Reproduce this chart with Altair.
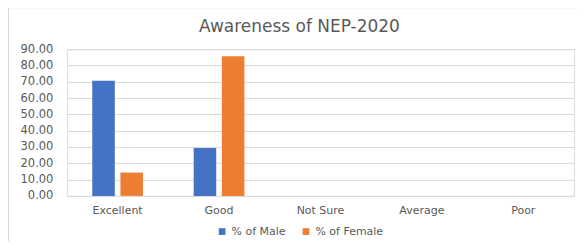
import altair as alt
import pandas as pd

categories = ["Excellent", "Good", "Not Sure", "Average", "Poor"]
male = [70.59, 29.41, 0, 0, 0]
female = [14.29, 85.71, 0, 0, 0]
series = ["% of Male", "% of Female"]
colors = ["#4472C4", "#ED7D31"]
y_ticks = [0, 10, 20, 30, 40, 50, 60, 70, 80, 90]

rows = []
for c, m, f in zip(categories, male, female):
    rows.append({"cat": c, "series": series[0], "value": m})
    rows.append({"cat": c, "series": series[1], "value": f})
df = pd.DataFrame(rows)

W, H = 508, 147
FONT = "DejaVu Sans"

bars = alt.Chart(df).mark_bar().encode(
    x=alt.X("cat:N", sort=categories, title=None,
            scale=alt.Scale(paddingInner=0.5, paddingOuter=0.25),
            axis=alt.Axis(labelAngle=0, ticks=False, domain=False, labelPadding=9,
                          labelFontSize=11, labelColor="#595959", labelFont=FONT)),
    xOffset=alt.XOffset("series:N", sort=series, scale=alt.Scale(paddingInner=0.2)),
    y=alt.Y("value:Q", title=None,
            scale=alt.Scale(domain=[0, 90], nice=False),
            axis=alt.Axis(values=y_ticks, format=".2f", ticks=False, domain=False,
                          gridColor="#d9d9d9", labelPadding=14, labelFontSize=11.5,
                          labelColor="#595959", labelFont=FONT)),
    color=alt.Color("series:N", sort=series,
                    scale=alt.Scale(domain=series, range=colors),
                    legend=alt.Legend(title=None, orient="none", direction="horizontal",
                                      legendX=150, legendY=177, symbolType="square",
                                      symbolSize=45, symbolStrokeWidth=0,
                                      labelFontSize=11, labelColor="#595959",
                                      labelFont=FONT, columnPadding=14)),
)

border = alt.Chart(alt.Data(values=[{}])).mark_rect(
    fill="transparent", stroke="#d9d9d9", strokeWidth=1
).encode(
    x=alt.value(-58.5), x2=alt.value(516), y=alt.value(-41.5), y2=alt.value(205)
)

chart = alt.layer(border, bars).properties(
    width=W, height=H,
    title=alt.TitleParams("Awareness of NEP-2020", fontSize=17, font=FONT,
                          fontWeight="normal", color="#595959", anchor="middle",
                          frame="group", baseline="alphabetic", dx=-21, offset=0, dy=42),
    padding={"left": 59, "top": 41, "right": 6, "bottom": 45},
    autosize=alt.AutoSizeParams(type="none"),
).configure_view(stroke=None).configure(background="white")

chart.save("out.html", embed_options={"renderer": "svg", "actions": False})
